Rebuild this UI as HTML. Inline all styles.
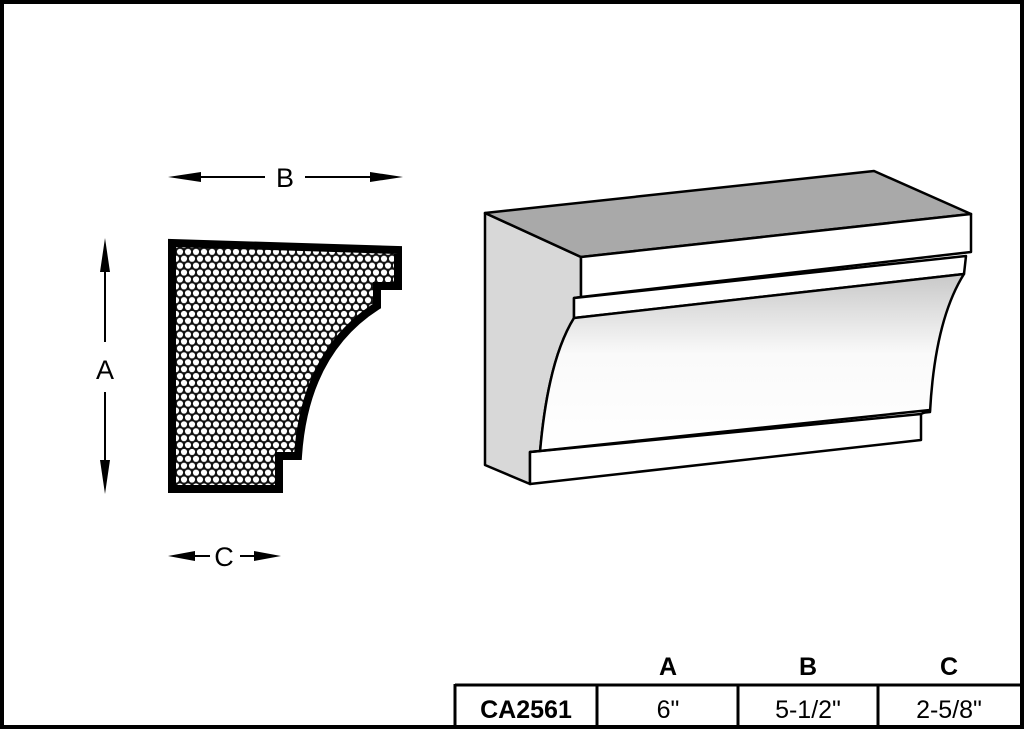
<!DOCTYPE html>
<html><head><meta charset="utf-8"><style>
html,body{margin:0;padding:0;background:#fff}
svg{display:block}
text{font-family:"Liberation Sans",Arial,sans-serif}
</style></head><body>
<svg width="1024" height="729" viewBox="0 0 1024 729" xmlns="http://www.w3.org/2000/svg">
<defs>
<pattern id="hex" width="8" height="13.8" patternUnits="userSpaceOnUse">
<rect width="8" height="13.8" fill="#111"/>
<circle cx="4" cy="3.45" r="3.1" fill="#fff"/>
<circle cx="0" cy="10.35" r="3.1" fill="#fff"/>
<circle cx="8" cy="10.35" r="3.1" fill="#fff"/>
</pattern>
<linearGradient id="cove" x1="0" y1="0" x2="0" y2="1">
<stop offset="0" stop-color="#c8c8c8"/><stop offset="0.45" stop-color="#fafafa"/><stop offset="1" stop-color="#fff"/>
</linearGradient>
</defs>
<rect x="2" y="2" width="1020" height="725" fill="#fff" stroke="#000" stroke-width="4"/>

<g fill="#000" stroke="#000">
<line x1="190" y1="177" x2="265" y2="177" stroke-width="2"/>
<line x1="305" y1="177" x2="380" y2="177" stroke-width="2"/>
<polygon points="168,177 201,172 201,182" stroke="none"/>
<polygon points="403,177 370,172 370,182" stroke="none"/>
<line x1="105" y1="260" x2="105" y2="342" stroke-width="2"/>
<line x1="105" y1="392" x2="105" y2="470" stroke-width="2"/>
<polygon points="105,238 100,272 110,272" stroke="none"/>
<polygon points="105,494 100,460 110,460" stroke="none"/>
<line x1="185" y1="556" x2="210" y2="556" stroke-width="2"/>
<line x1="240" y1="556" x2="265" y2="556" stroke-width="2"/>
<polygon points="168,556 195,551 195,561" stroke="none"/>
<polygon points="281,556 254,551 254,561" stroke="none"/>
</g>
<text x="285" y="187" font-size="27" text-anchor="middle">B</text>
<text x="105" y="379" font-size="27" text-anchor="middle">A</text>
<text x="224" y="566" font-size="27" text-anchor="middle">C</text>

<path d="M172,243 L398,250 L398,286 L377,286 L377,306 Q305,352 298,456 L279,456 L279,489 L172,489 Z" fill="url(#hex)" stroke="#000" stroke-width="8" stroke-linejoin="miter"/>

<g stroke="#000" stroke-width="2.5" stroke-linejoin="round">
<path d="M485,213 L581,257 L581,297 L574,298 L574,318 Q548,360 540,452 L530,452 L530,484 L485,465 Z" fill="#d8d8d8"/>
<polygon points="485,213 874,171 971,214 581,257" fill="#a9a9a9"/>
<polygon points="581,257 971,214 971,252 581,297" fill="#fff"/>
<polygon points="574,298 966,256 964,274 574,318" fill="#fff"/>
<path d="M574,318 L964,274 Q935,320 930,412 L540,452 Q548,360 574,318 Z" fill="url(#cove)"/>
<polygon points="530,452 930,410 921,414 921,440 530,484" fill="#fff"/>
<line x1="530" y1="452" x2="921" y2="414"/>
</g>

<g fill="#000">
<text x="668" y="675" font-size="25" font-weight="bold" text-anchor="middle">A</text>
<text x="808" y="675" font-size="25" font-weight="bold" text-anchor="middle">B</text>
<text x="949" y="675" font-size="25" font-weight="bold" text-anchor="middle">C</text>
</g>
<g stroke="#000" stroke-width="3" fill="none">
<line x1="455" y1="685" x2="1022" y2="685"/>
<line x1="455" y1="684" x2="455" y2="727"/>
<line x1="597" y1="685" x2="597" y2="727"/>
<line x1="738" y1="685" x2="738" y2="727"/>
<line x1="878" y1="685" x2="878" y2="727"/>
</g>
<text x="526" y="718" font-size="25" font-weight="bold" text-anchor="middle">CA2561</text>
<text x="668" y="718" font-size="25" text-anchor="middle">6"</text>
<text x="808" y="718" font-size="25" text-anchor="middle">5-1/2"</text>
<text x="949" y="718" font-size="25" text-anchor="middle">2-5/8"</text>
</svg>
</body></html>
